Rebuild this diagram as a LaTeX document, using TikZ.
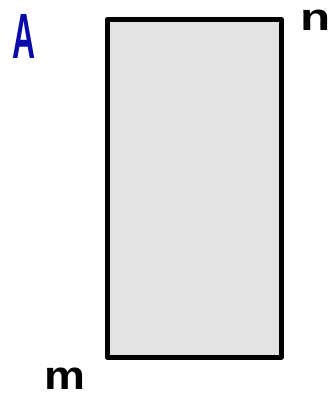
\documentclass[tikz,border=0pt]{standalone}
\usepackage{fontspec}
\setmainfont{Liberation Sans}
\definecolor{boxgray}{HTML}{E3E3E3}
\definecolor{labelblue}{HTML}{0A0AAA}
\begin{document}
\begin{tikzpicture}[x=1pt,y=-1pt,
  lbl/.style={inner sep=0pt, anchor=center},
  box/.style={draw=black, line width=4.5pt, fill=boxgray, line join=round}]
\useasboundingbox (0,0) rectangle (336,400);
\node[box, minimum width=174pt, minimum height=338pt, inner sep=0pt, anchor=north west] (r) at (105,17) {};
\node[lbl, text=labelblue, xscale=0.5] (A) at (24.5,36) {\fontsize{64}{64}\selectfont\bfseries A};
\node[lbl, xscale=1.3] (n) at (316,20) {\fontsize{38}{38}\selectfont\bfseries n};
\node[lbl, xscale=1.15] (m) at (64.5,379) {\fontsize{40}{40}\selectfont\bfseries m};
\end{tikzpicture}
\end{document}
